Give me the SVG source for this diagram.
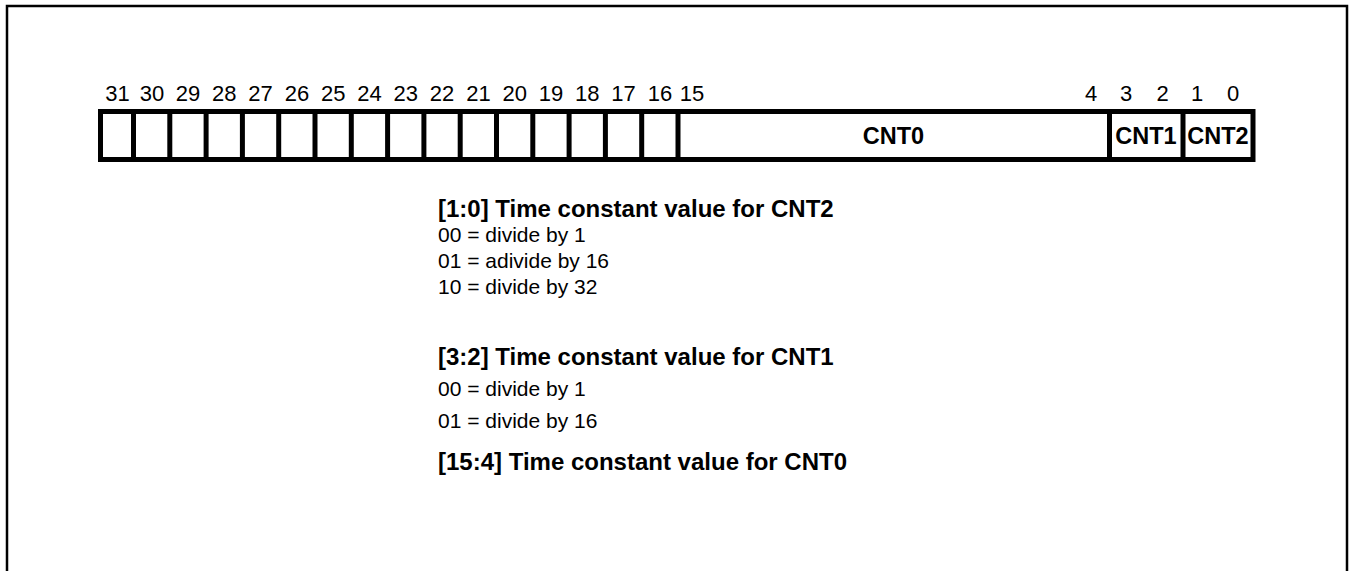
<svg xmlns="http://www.w3.org/2000/svg" width="1351" height="571" viewBox="0 0 1351 571">
<style>
.frame{fill:none;stroke:#000;stroke-width:2.5}
.reg{fill:#fff;stroke:#000;stroke-width:5}
.div{stroke:#000;stroke-width:5}
.bit{font-family:"Liberation Sans",Arial,sans-serif;font-size:22px;fill:#000;text-anchor:middle}
.fld{font-family:"Liberation Sans",Arial,sans-serif;font-size:23.5px;font-weight:bold;fill:#000;text-anchor:middle}
.hd{font-family:"Liberation Sans",Arial,sans-serif;font-size:24px;font-weight:bold;fill:#000}
.bd{font-family:"Liberation Sans",Arial,sans-serif;font-size:21px;fill:#000}
</style>
<rect width="1351" height="571" fill="#fff"/>
<path class="frame" d="M7,572 V6 H1347 V572"/>
<g id="register">
<rect class="reg" x="100.5" y="111.5" width="1152.5" height="48"/>
<g id="dividers">
<line class="div" x1="133.5" y1="111.5" x2="133.5" y2="159.5"/>
<line class="div" x1="169.8" y1="111.5" x2="169.8" y2="159.5"/>
<line class="div" x1="206.1" y1="111.5" x2="206.1" y2="159.5"/>
<line class="div" x1="242.4" y1="111.5" x2="242.4" y2="159.5"/>
<line class="div" x1="278.7" y1="111.5" x2="278.7" y2="159.5"/>
<line class="div" x1="315" y1="111.5" x2="315" y2="159.5"/>
<line class="div" x1="351.3" y1="111.5" x2="351.3" y2="159.5"/>
<line class="div" x1="387.6" y1="111.5" x2="387.6" y2="159.5"/>
<line class="div" x1="423.9" y1="111.5" x2="423.9" y2="159.5"/>
<line class="div" x1="460.2" y1="111.5" x2="460.2" y2="159.5"/>
<line class="div" x1="496.5" y1="111.5" x2="496.5" y2="159.5"/>
<line class="div" x1="532.8" y1="111.5" x2="532.8" y2="159.5"/>
<line class="div" x1="569.1" y1="111.5" x2="569.1" y2="159.5"/>
<line class="div" x1="605.4" y1="111.5" x2="605.4" y2="159.5"/>
<line class="div" x1="641.7" y1="111.5" x2="641.7" y2="159.5"/>
<line class="div" x1="678" y1="111.5" x2="678" y2="159.5"/>
<line class="div" x1="1109.5" y1="111.5" x2="1109.5" y2="159.5"/>
<line class="div" x1="1183" y1="111.5" x2="1183" y2="159.5"/>
</g>
<g id="bit-labels">
<text class="bit" x="117.5" y="101">31</text>
<text class="bit" x="152" y="101">30</text>
<text class="bit" x="188" y="101">29</text>
<text class="bit" x="224.3" y="101">28</text>
<text class="bit" x="260.6" y="101">27</text>
<text class="bit" x="296.9" y="101">26</text>
<text class="bit" x="333.2" y="101">25</text>
<text class="bit" x="369.5" y="101">24</text>
<text class="bit" x="405.8" y="101">23</text>
<text class="bit" x="442.1" y="101">22</text>
<text class="bit" x="478.4" y="101">21</text>
<text class="bit" x="514.7" y="101">20</text>
<text class="bit" x="551" y="101">19</text>
<text class="bit" x="587.3" y="101">18</text>
<text class="bit" x="623.6" y="101">17</text>
<text class="bit" x="659.9" y="101">16</text>
<text class="bit" x="692" y="101">15</text>
<text class="bit" x="1091" y="101">4</text>
<text class="bit" x="1126" y="101">3</text>
<text class="bit" x="1162.5" y="101">2</text>
<text class="bit" x="1197" y="101">1</text>
<text class="bit" x="1233" y="101">0</text>
</g>
<g id="fields">
<text class="fld" x="893.5" y="144">CNT0</text>
<text class="fld" x="1146" y="144">CNT1</text>
<text class="fld" x="1218" y="144">CNT2</text>
</g>
</g>
<g id="desc-cnt2">
<text class="hd" x="438" y="217">[1:0] Time constant value for CNT2</text>
<text class="bd" x="438" y="242">00 = divide by 1</text>
<text class="bd" x="438" y="268">01 = adivide by 16</text>
<text class="bd" x="438" y="294">10 = divide by 32</text>
</g>
<g id="desc-cnt1">
<text class="hd" x="438" y="365">[3:2] Time constant value for CNT1</text>
<text class="bd" x="438" y="396">00 = divide by 1</text>
<text class="bd" x="438" y="428">01 = divide by 16</text>
</g>
<g id="desc-cnt0">
<text class="hd" x="438" y="470">[15:4] Time constant value for CNT0</text>
</g>
</svg>
